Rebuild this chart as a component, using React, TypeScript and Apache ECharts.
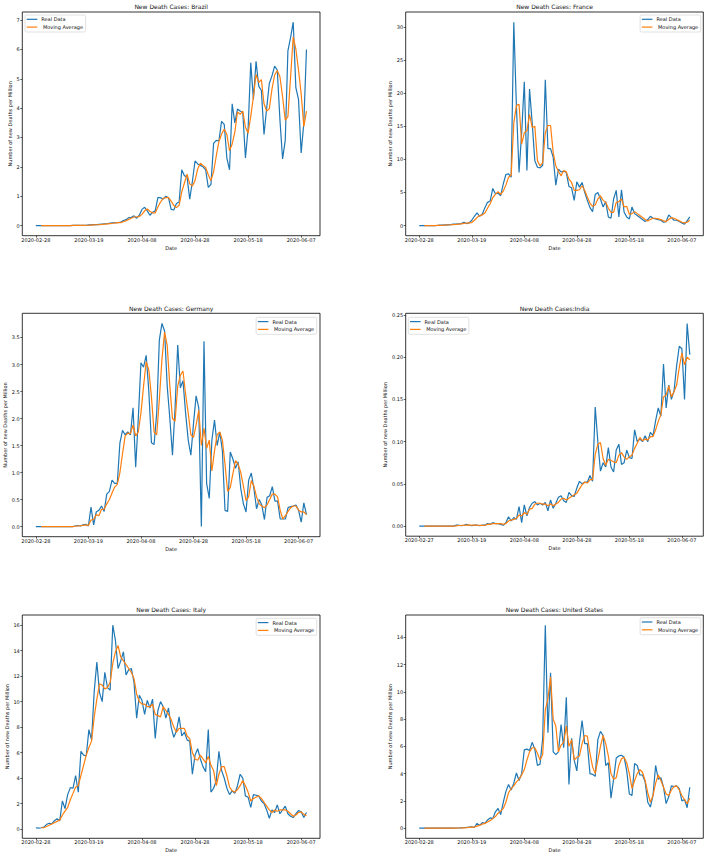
import React, { useEffect, useRef } from "react";
import * as echarts from "echarts";

// ---------- DATA ----------
const dateLabels = ["2020-02-28", "2020-03-19", "2020-04-08", "2020-04-28", "2020-05-18", "2020-06-07"];
const indiaDateLabels = ["2020-02-27", "2020-03-19", "2020-04-08", "2020-04-28", "2020-05-18", "2020-06-07"];
const xTickIndex = [0, 20, 40, 60, 80, 100];

const brazilYTicks = [0, 1, 2, 3, 4, 5, 6, 7];
const franceYTicks = [0, 5, 10, 15, 20, 25, 30];
const germanyYTicks = [0, 0.5, 1, 1.5, 2, 2.5, 3, 3.5];
const indiaYTicks = [0, 0.05, 0.1, 0.15, 0.2, 0.25];
const italyYTicks = [0, 2, 4, 6, 8, 10, 12, 14, 16];
const usYTicks = [0, 2, 4, 6, 8, 10, 12, 14];

const brazilReal = [
  0, 0, 0, 0, 0, 0, 0, 0, 0, 0, 0, 0, 0, 0,
  0.005, 0.005, 0.005, 0.01, 0.01, 0.01, 0.02,
  0.02, 0.03, 0.03, 0.04, 0.05, 0.06, 0.06, 0.08, 0.09, 0.1, 0.1,
  0.12, 0.17, 0.2, 0.27, 0.28, 0.33, 0.25, 0.35, 0.55, 0.62, 0.5, 0.35, 0.45, 0.5,
  0.95, 0.95, 0.9, 1.0, 0.95, 0.55, 0.53, 0.75, 0.8, 1.9, 1.7, 1.65, 0.9, 1.5,
  2.2, 2.1, 2.05, 2.0, 1.9, 1.3, 1.4, 2.8, 2.9, 2.88, 3.55, 3.45, 2.3, 1.9,
  4.15, 3.5, 3.97, 3.9, 3.85, 2.3, 3.3, 5.55, 4.3, 5.6, 4.75, 4.6, 3.1, 4.0,
  4.85, 5.1, 5.43, 5.3, 3.6, 2.27, 2.9, 5.95, 6.4, 6.93, 4.7, 4.3, 2.47, 3.5, 6.0,
];
const brazilMA = [
  null, null,
  0, 0, 0, 0, 0, 0, 0, 0, 0, 0, 0, 0,
  0.003, 0.005, 0.005, 0.007, 0.008, 0.01, 0.013,
  0.017, 0.023, 0.027, 0.033, 0.04, 0.05, 0.057, 0.067, 0.077, 0.09, 0.097,
  0.1, 0.13, 0.16, 0.21, 0.25, 0.29, 0.29, 0.31, 0.38, 0.5, 0.56, 0.49, 0.43, 0.43,
  0.63, 0.8, 0.93, 0.95, 0.95, 0.83, 0.68, 0.61, 0.69, 1.15, 1.45, 1.75, 1.42, 1.35,
  1.53, 1.93, 2.12, 2.05, 1.98, 1.73, 1.53, 1.83, 2.37, 2.86, 3.11, 3.29, 3.1, 2.55,
  2.78, 3.18, 3.87, 3.79, 3.9, 3.35, 3.15, 3.72, 4.38, 5.15, 4.88, 4.97, 4.15, 3.9,
  3.98, 4.65, 5.13, 5.28, 5.07, 4.39, 3.59, 3.71, 5.04, 6.43, 6.01, 5.3, 4.5, 3.37, 3.9,
];

const franceReal = [
  0, 0, 0, 0, 0, 0, 0, 0.02, 0.05, 0.05,
  0.1, 0.1, 0.15, 0.2, 0.2, 0.25, 0.3, 0.5, 0.3, 0.4,
  0.8, 1.4, 1.9, 1.4, 1.7, 2.7, 3.5, 3.7, 5.6, 4.8, 4.9, 4.5, 6.3, 7.7, 7.8, 7.3, 30.7,
  18, 8.0, 14, 21.7, 8.3, 20.6, 15.5, 9.8, 8.8, 8.7, 9.1, 22, 11.6, 11.6, 10.3, 6.1,
  8.5, 8.1, 8.2, 8.0, 5.9, 5.7, 3.8, 6.6, 5.8, 6.5, 5.0, 3.8, 2.7, 2.1, 4.7, 5.0,
  4.0, 2.8, 3.6, 1.3, 1.1, 4.0, 5.3, 1.3, 5.4, 2.0, 1.3, 1.0, 2.8, 1.8, 1.5, 1.2,
  0.9, 0.6, 0.9, 1.4, 1.1, 1.0, 0.9, 0.8, 0.5, 0.6, 1.6, 1.2, 0.8, 0.8, 0.6, 0.4,
  0.2, 0.7, 1.3,
];
const franceMA = [
  null, null,
  0, 0, 0, 0, 0, 0.01, 0.02, 0.04, 0.07, 0.08, 0.12, 0.15, 0.18, 0.22,
  0.25, 0.33, 0.35, 0.4,
  0.45, 0.8, 1.2, 1.5, 1.6, 1.9, 2.6, 3.3, 4.2, 4.7, 5.1, 4.7, 5.2, 6.1, 7.3, 7.6,
  15.5, 18.1, 18.3, 12.3, 14.0, 14.3, 16.8, 14.8, 15.0, 9.8, 9.0, 9.5, 14.0, 15.1,
  15.1, 11.0, 9.0, 8.2, 7.5, 8.3, 8.1, 7.0, 6.5, 5.3, 5.3, 5.4, 6.0, 5.3, 4.3, 3.4,
  2.9, 3.1, 4.0, 4.5, 3.8, 3.5, 2.6, 2.0, 2.0, 3.5, 3.6, 4.0, 2.8, 2.9, 1.7, 1.8,
  2.1, 1.8, 1.5, 1.2, 0.9, 0.7, 0.9, 1.1, 1.1, 1.0, 0.9, 0.7, 0.6, 0.9, 1.2, 1.1,
  0.9, 0.7, 0.5, 0.4, 0.5, 0.8,
];

const germanyReal = [
  0, 0, 0, 0, 0, 0, 0, 0, 0, 0, 0, 0, 0, 0, 0, 0.01,
  0.02, 0.01, 0.03, 0.04, 0.01,
  0.36, 0.03, 0.27, 0.3, 0.38, 0.28, 0.6, 0.65, 0.86, 0.8, 0.8, 1.55, 1.78, 1.7,
  1.75, 1.7, 2.2, 1.1, 2.0, 3.03, 2.95, 3.17, 2.5, 1.55, 1.52, 2.1, 3.45, 3.76, 3.62,
  2.6, 2.0, 1.32, 2.2, 3.36, 2.57, 2.7, 2.1, 1.6, 1.32, 1.9, 2.42, 2.2, 0.0, 3.43,
  0.8, 0.52, 1.6, 1.97, 1.5, 1.75, 1.4, 0.3, 0.28, 1.38, 1.25, 1.08, 1.2, 0.7, 0.42,
  0.27, 0.86, 0.99, 0.7, 0.33, 0.5, 0.4, 0.13, 0.54, 0.57, 0.74, 0.47, 0.47, 0.14,
  0.14, 0.14, 0.35, 0.37, 0.38, 0.4, 0.3, 0.08, 0.44, 0.22,
];
const germanyMA = [
  null, null,
  0, 0, 0, 0, 0, 0, 0, 0, 0, 0, 0, 0, 0, 0.005, 0.01, 0.015, 0.02, 0.03, 0.02,
  0.12, 0.13, 0.22, 0.2, 0.32, 0.32, 0.42, 0.5, 0.62, 0.73, 0.78, 1.0, 1.35, 1.68,
  1.73, 1.72, 1.88, 1.68, 1.75, 2.1, 2.6, 3.05, 2.9, 2.4, 1.75, 1.7, 2.35, 3.1, 3.6,
  3.35, 2.6, 2.0, 1.95, 2.6, 2.8, 2.88, 2.45, 2.1, 1.7, 1.65, 1.88, 2.15, 1.5, 1.82,
  1.45, 1.6, 1.03, 1.4, 1.7, 1.75, 1.6, 1.15, 0.65, 0.72, 0.98, 1.22, 1.15, 1.0, 0.75,
  0.48, 0.55, 0.85, 0.75, 0.55, 0.42, 0.38, 0.35, 0.4, 0.5, 0.6, 0.6, 0.55, 0.3,
  0.14, 0.2, 0.28, 0.35, 0.38, 0.38, 0.3, 0.27, 0.27, 0.22,
];

const indiaReal = [
  0, 0, 0, 0, 0, 0, 0, 0, 0, 0, 0, 0, 0, 0,
  0.001, 0.001, 0.0005, 0.001, 0.002, 0.001, 0.0005, 0.001, 0.001, 0.0005, 0.001,
  0.001, 0.003, 0.002, 0.004, 0.003, 0.003, 0.002, 0.001, 0.004, 0.011, 0.006, 0.01,
  0.008, 0.023, 0.004, 0.025, 0.012, 0.022, 0.027, 0.029, 0.025, 0.027, 0.025, 0.028,
  0.018, 0.031, 0.021, 0.027, 0.034, 0.036, 0.03, 0.028, 0.04, 0.036, 0.035, 0.045,
  0.053, 0.05, 0.052, 0.052, 0.06, 0.053, 0.141, 0.1, 0.065, 0.075, 0.07, 0.093, 0.07,
  0.064, 0.09, 0.097, 0.073, 0.075, 0.09, 0.081, 0.08, 0.114, 0.1, 0.103, 0.1, 0.107,
  0.1, 0.111, 0.107, 0.125, 0.14, 0.13, 0.192, 0.14, 0.167, 0.15, 0.16, 0.19, 0.213,
  0.21, 0.15, 0.24, 0.203,
];
const indiaMA = [
  null, null,
  0, 0, 0, 0, 0, 0, 0, 0, 0, 0, 0, 0,
  0.0003, 0.0007, 0.0008, 0.001, 0.0012, 0.0013, 0.001, 0.001, 0.001, 0.0008, 0.0008,
  0.001, 0.002, 0.002, 0.003, 0.003, 0.003, 0.003, 0.002, 0.003, 0.006, 0.007, 0.008,
  0.009, 0.013, 0.012, 0.016, 0.014, 0.02, 0.021, 0.026, 0.027, 0.027, 0.026, 0.026,
  0.024, 0.026, 0.024, 0.026, 0.028, 0.032, 0.033, 0.031, 0.033, 0.035, 0.037, 0.039,
  0.044, 0.049, 0.052, 0.051, 0.055, 0.055, 0.085, 0.097, 0.099, 0.08, 0.072, 0.079,
  0.078, 0.076, 0.075, 0.084, 0.087, 0.082, 0.079, 0.082, 0.084, 0.092, 0.098, 0.105,
  0.101, 0.103, 0.102, 0.106, 0.106, 0.114, 0.124, 0.132, 0.153, 0.155, 0.166, 0.153,
  0.159, 0.167, 0.188, 0.205, 0.191, 0.2, 0.197,
];

const italyReal = [
  0.1, 0.07, 0.1, 0.15, 0.35, 0.45, 0.4, 0.65, 0.8, 0.65,
  2.2, 1.6, 2.7, 3.25, 3.2, 4.2, 2.9, 6.1, 5.8, 5.75,
  7.8, 7.0, 10.8, 13.1, 10.7, 10.0, 12.3, 11.1, 10.9, 16.0,
  14.8, 12.6, 13.2, 13.9, 12.1, 12.5, 12.6, 11.5, 8.7, 10.5,
  10.1, 9.0, 10.1, 9.5, 10.2, 7.1, 9.3, 10.0, 9.6, 8.7,
  9.5, 8.0, 7.2, 7.7, 8.8, 7.3, 7.6, 7.0, 6.9, 4.3,
  5.8, 6.3, 5.5, 4.9, 4.5, 7.8, 2.9, 3.2, 3.8, 6.1,
  4.6, 4.0, 3.2, 2.7, 3.0, 2.8, 3.4, 4.3, 4.0, 2.6,
  2.5, 1.7, 2.7, 2.65, 2.6, 2.2, 2.0, 1.5, 0.85, 1.5,
  1.3, 1.9, 1.2, 1.5, 1.8, 1.2, 1.0, 0.9, 1.2, 1.45,
  1.35, 0.9, 1.3,
];
const italyMA = [
  null, null, 0.1, 0.1, 0.2, 0.3, 0.4, 0.5, 0.6, 0.7,
  1.1, 1.4, 1.7, 2.3, 2.8, 3.3, 3.4, 4.2, 5.0, 5.8,
  6.4, 6.9, 8.8, 10.2, 11.4, 11.3, 11.0, 11.1, 11.5, 13.0,
  13.9, 14.4, 13.5, 13.2, 12.9, 12.6, 12.3, 11.8, 10.6, 10.0,
  9.8, 9.8, 9.6, 9.6, 9.8, 9.0, 8.9, 8.8, 9.6, 9.3,
  9.0, 8.6, 8.0, 7.6, 7.9, 7.9, 7.9, 7.3, 7.1, 6.0,
  5.5, 5.4, 5.8, 5.5, 5.2, 5.7, 5.0, 4.6, 3.4, 4.3,
  4.9, 4.9, 4.2, 3.3, 3.0, 2.9, 3.1, 3.4, 3.8, 3.4,
  2.9, 2.2, 2.4, 2.5, 2.6, 2.4, 2.1, 1.8, 1.5, 1.3,
  1.5, 1.4, 1.5, 1.5, 1.5, 1.4, 1.2, 1.0, 1.1, 1.3,
  1.35, 1.15, 1.05,
];

const usReal = [
  0, 0, 0, 0, 0, 0, 0, 0, 0, 0, 0, 0, 0, 0, 0.01, 0.01, 0.02, 0.03, 0.05, 0.08,
  0.1, 0.05, 0.35, 0.2, 0.4, 0.35, 0.6, 0.75, 0.7, 1.2,
  1.45, 1.0, 1.9, 2.7, 3.2, 2.8, 3.3, 4.05, 3.5, 4.0,
  5.75, 5.8, 5.7, 6.3, 5.8, 4.6, 4.7, 6.6, 14.9, 7.0,
  11.4, 5.6, 5.4, 5.6, 7.6, 5.9, 9.6, 3.2, 6.6, 5.0,
  4.2, 6.3, 7.9, 6.2, 6.2, 4.0, 3.95, 3.8, 6.5, 7.1,
  6.8, 4.6, 4.8, 2.2, 3.6, 5.15, 5.3, 5.35, 5.2, 4.2,
  2.5, 2.4, 4.75, 4.6, 3.9, 3.9, 3.4, 1.9, 1.55, 2.4,
  4.6, 3.6, 3.7, 3.0, 1.8, 2.3, 3.1, 3.05, 3.1, 2.9,
  2.0, 2.1, 1.5, 3.0,
];
const usMA = [
  null, null, 0, 0, 0, 0, 0, 0, 0, 0, 0, 0, 0, 0, 0.005, 0.01, 0.015, 0.02, 0.03, 0.05,
  0.07, 0.08, 0.15, 0.2, 0.3, 0.35, 0.45, 0.55, 0.7, 0.85,
  1.1, 1.25, 1.45, 1.9, 2.6, 2.9, 3.1, 3.4, 3.6, 3.9,
  4.3, 5.0, 5.6, 5.9, 5.9, 5.5, 5.0, 5.4, 8.7, 9.5,
  11.1, 8.0, 7.5, 5.6, 6.1, 6.3, 7.5, 6.0, 6.5, 5.0,
  5.2, 5.3, 6.2, 6.8, 6.75, 5.5, 4.5, 4.0, 5.0, 6.0,
  6.8, 6.2, 5.3, 4.0, 3.6, 3.7, 4.6, 5.1, 5.2, 4.8,
  4.0, 2.9, 3.5, 4.0, 4.3, 4.1, 3.5, 2.6, 1.9, 2.4,
  3.3, 3.9, 3.5, 3.0, 2.5, 2.4, 2.8, 3.05, 3.1, 2.8,
  2.4, 2.1, 1.8, 2.2,
];

// ---------- LAYOUT ----------
const FONT = "DejaVu Sans";
const BLUE = "#1f77b4";
const ORANGE = "#ff7f0e";
const REAL_NAME = "Real Data";
const MA_NAME = " Moving Average";
const SMALL = 5;
const TITLE = 6;

type Panel = {
  title: string;
  real: number[];
  ma: (number | null)[];
  yTicks: number[];
  decimals: number;
  labels: string[];
  grid: { left: number; top: number; width: number; height: number };
  titleY: number;
  legend: any;
  yNameGap: number;
};

const panels: Panel[] = [
  {
    title: "New Death Cases: Brazil", real: brazilReal, ma: brazilMA, yTicks: brazilYTicks, decimals: 0,
    labels: dateLabels, grid: { left: 22.3, top: 12, width: 297.7, height: 223.7 }, titleY: 6.7,
    legend: { left: 25, top: 15 }, yNameGap: 9.5,
  },
  {
    title: "New Death Cases: France", real: franceReal, ma: franceMA, yTicks: franceYTicks, decimals: 0,
    labels: dateLabels, grid: { left: 405.7, top: 12, width: 297.6, height: 223.7 }, titleY: 6.7,
    legend: { right: 7.3, top: 15 }, yNameGap: 13.3,
  },
  {
    title: "New Death Cases: Germany", real: germanyReal, ma: germanyMA, yTicks: germanyYTicks, decimals: 1,
    labels: dateLabels, grid: { left: 22.3, top: 313.3, width: 297.7, height: 223.4 }, titleY: 308.3,
    legend: { right: 391.3, top: 317.3 }, yNameGap: 15,
  },
  {
    title: "New Death Cases:India", real: indiaReal, ma: indiaMA, yTicks: indiaYTicks, decimals: 2,
    labels: indiaDateLabels, grid: { left: 405.7, top: 313.3, width: 297.6, height: 222.9 }, titleY: 308.3,
    legend: { left: 408.3, top: 317.3 }, yNameGap: 18,
  },
  {
    title: "New Death Cases: Italy", real: italyReal, ma: italyMA, yTicks: italyYTicks, decimals: 0,
    labels: dateLabels, grid: { left: 22.3, top: 615, width: 297.7, height: 223.3 }, titleY: 609,
    legend: { right: 391.3, top: 618.3 }, yNameGap: 13.2,
  },
  {
    title: "New Death Cases: United States", real: usReal, ma: usMA, yTicks: usYTicks, decimals: 0,
    labels: dateLabels, grid: { left: 405.7, top: 615, width: 297.6, height: 223.3 }, titleY: 609,
    legend: { right: 7.3, top: 617.7 }, yNameGap: 13,
  },
];

function buildOption() {
  const grids: any[] = [];
  const xAxes: any[] = [];
  const yAxes: any[] = [];
  const series: any[] = [];
  const legends: any[] = [];
  const graphics: any[] = [];

  panels.forEach((p, k) => {
    const n = p.real.length;
    const all = [...p.real, ...(p.ma.filter((v) => v !== null) as number[])];
    const dMin = Math.min(...all);
    const dMax = Math.max(...all);
    const yPad = (dMax - dMin) * 0.05;

    grids.push({
      ...p.grid,
      show: true,
      borderColor: "#000",
      borderWidth: 0.8,
      backgroundColor: "transparent",
      containLabel: false,
    });

    xAxes.push({
      gridIndex: k,
      type: "value",
      min: -0.05 * (n - 1),
      max: 1.05 * (n - 1),
      axisLine: { show: false, onZero: false },
      axisTick: {
        show: true,
        length: 2,
        lineStyle: { color: "#000", width: 0.6 },
        customValues: xTickIndex,
      },
      axisLabel: {
        customValues: xTickIndex,
        formatter: (v: number) => p.labels[Math.round(v / 20)] ?? "",
        fontSize: SMALL,
        fontFamily: FONT,
        color: "#111",
        margin: 1.5,
      },
      splitLine: { show: false },
      name: "Date",
      nameLocation: "middle",
      nameGap: 9.5,
      nameTextStyle: { fontSize: SMALL, fontFamily: FONT, color: "#111" },
    });

    yAxes.push({
      gridIndex: k,
      type: "value",
      min: dMin - yPad,
      max: dMax + yPad,
      axisLine: { show: false, onZero: false },
      axisTick: {
        show: true,
        length: 2,
        lineStyle: { color: "#000", width: 0.6 },
        customValues: p.yTicks,
      },
      axisLabel: {
        customValues: p.yTicks,
        formatter: (v: number) => v.toFixed(p.decimals),
        fontSize: SMALL,
        fontFamily: FONT,
        color: "#111",
        margin: 2.5,
      },
      splitLine: { show: false },
      name: "Number of new Deaths per Million",
      nameLocation: "middle",
      nameRotate: 90,
      nameGap: p.yNameGap,
      nameTextStyle: { fontSize: SMALL, fontFamily: FONT, color: "#111" },
    });

    series.push({
      type: "line",
      name: REAL_NAME,
      xAxisIndex: k,
      yAxisIndex: k,
      data: p.real.map((v, i) => [i, v]),
      showSymbol: false,
      symbol: "none",
      silent: true,
      lineStyle: { color: BLUE, width: 1.2 },
      itemStyle: { color: BLUE },
      z: 2,
    });
    series.push({
      type: "line",
      name: MA_NAME,
      xAxisIndex: k,
      yAxisIndex: k,
      data: p.ma.map((v, i) => [i, v]).filter((d) => d[1] !== null),
      showSymbol: false,
      symbol: "none",
      silent: true,
      lineStyle: { color: ORANGE, width: 1.2 },
      itemStyle: { color: ORANGE },
      z: 3,
    });

    legends.push({
      ...p.legend,
      orient: "vertical",
      data: [REAL_NAME, MA_NAME],
      icon: "rect",
      itemWidth: 10.6,
      itemHeight: 1.2,
      itemGap: 2,
      padding: [1.4, 2.5, 2.0, 1.7],
      borderColor: "#cccccc",
      borderWidth: 0.6,
      borderRadius: 1.5,
      backgroundColor: "rgba(255,255,255,0.8)",
      selectedMode: false,
      textStyle: { fontSize: SMALL, fontFamily: FONT, color: "#111", lineHeight: 5.8, padding: [0, 0, 0, -1] },
    });

    graphics.push({
      type: "text",
      x: p.grid.left + p.grid.width / 2,
      y: p.titleY,
      silent: true,
      style: {
        text: p.title,
        textAlign: "center",
        textVerticalAlign: "middle",
        fontSize: TITLE,
        fontWeight: "normal",
        fontFamily: FONT,
        fill: "#111",
      },
    });
  });

  return {
    animation: false,
    backgroundColor: "#ffffff",
    grid: grids,
    xAxis: xAxes,
    yAxis: yAxes,
    series,
    legend: legends,
    graphic: graphics,
    tooltip: { show: false },
  };
}

export default function App() {
  const ref = useRef<HTMLDivElement>(null);
  useEffect(() => {
    if (!ref.current) return;
    const chart = echarts.init(ref.current, undefined, { renderer: "svg" });
    chart.setOption(buildOption() as any);
    return () => chart.dispose();
  }, []);
  return (
    <div
      ref={ref}
      style={{ position: "absolute", left: 0, top: 0, width: 708, height: 855, background: "#fff" }}
    />
  );
}
